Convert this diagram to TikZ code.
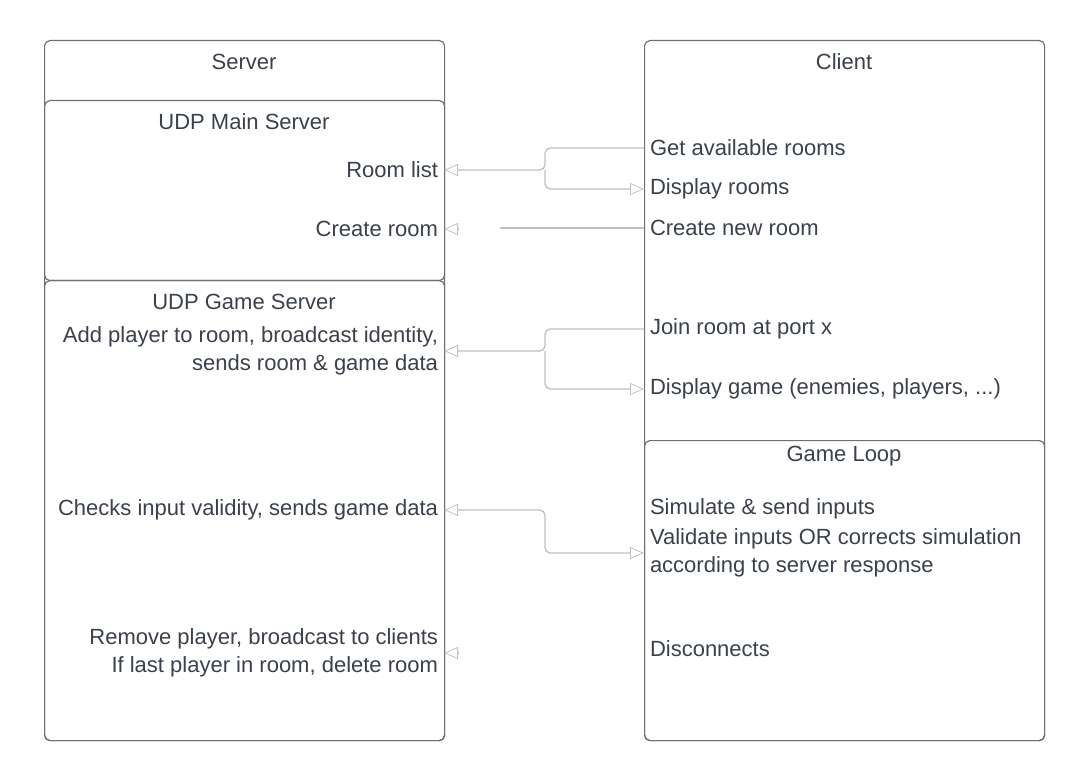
\documentclass[tikz,border=0pt]{standalone}
\usepackage{fontspec}
\setmainfont{Liberation Sans}
\usetikzlibrary{arrows.meta,positioning,calc}
\definecolor{boxline}{RGB}{112,112,112}
\definecolor{linkline}{RGB}{192,192,192}
\definecolor{txt}{RGB}{58,65,74}
\tikzset{
  panel/.style={draw=boxline, line width=0.9pt, rounded corners=4pt, inner sep=0pt,
    minimum width=300pt, anchor=north west},
  title/.style={text=txt, inner sep=0pt},
  lefttxt/.style={text=txt, anchor=east, align=right, inner sep=0pt, outer xsep=4.5pt},
  righttxt/.style={text=txt, anchor=west, align=left, inner sep=0pt, outer xsep=4.5pt},
  link/.style={draw=linkline, line width=1pt, rounded corners=4pt},
  tip/.tip={Triangle[open, length=10.5pt, width=9pt, line width=0.6pt]}
}
\begin{document}
\begin{tikzpicture}[x=0.75pt, y=-0.75pt, font=\fontsize{16.5}{21}\selectfont]
    \useasboundingbox (0,0) rectangle (1084,780);

    % Server side
    \node[panel, minimum height=525pt] (server) at (44,40) {};
    \node[panel, minimum height=135pt] (mainsrv) at (44,100) {};
    \node[panel, minimum height=345pt] (gamesrv) at (44,280) {};

    % Client side
    \node[panel, minimum height=525pt] (client) at (644,40) {};
    \node[panel, minimum height=225pt] (gameloop) at (644,440) {};

    % Titles
    \node[title] (servertitle) at (244,62) {Server};
    \node[title] (maintitle) at (244,122) {UDP Main Server};
    \node[title] (gametitle) at (244,302) {UDP Game Server};
    \node[title] (clienttitle) at (844,62) {Client};
    \node[title] (looptitle) at (844,456) {Game Loop};

    % Server texts
    \node[lefttxt] (roomlist) at (444,170) {Room list};
    \node[lefttxt] (createroom) at (444,229) {Create room};
    \node[lefttxt] (addplayer) at (444,351) {Add player to room, broadcast identity,\\sends room \& game data};
    \node[lefttxt] (checks) at (444,510) {Checks input validity, sends game data};
    \node[lefttxt] (remove) at (444,653) {Remove player, broadcast to clients\\If last player in room, delete room};

    % Client texts
    \node[righttxt] (getrooms) at (644,148) {Get available rooms};
    \node[righttxt] (disprooms) at (644,189) {Display rooms};
    \node[righttxt] (newroom) at (644,228) {Create new room};
    \node[righttxt] (joinroom) at (644,329) {Join room at port x};
    \node[righttxt] (dispgame) at (644,389) {Display game (enemies, players, ...)};
    \node[righttxt] (simulate) at (644,509) {Simulate \& send inputs};
    \node[righttxt] (validate) at (644,553) {Validate inputs OR corrects simulation\\according to server response};
    \node[righttxt] (disconnect) at (644,649) {Disconnects};

    % Junctions
    \coordinate (J1) at (545,170);
    \coordinate (J2) at (545,351);
    \coordinate (J3) at (545,530);
    \coordinate (C1) at (500,228);

    % Connectors
    \draw[link, -{tip}] (getrooms.west) -| (J1) -- (roomlist.east);
    \draw[link, -{tip}] (J1) |- (disprooms.west);
    \draw[link] (newroom.west) -- (C1);
    \draw[link, -{tip}] ($(createroom.east)+(15,0)$) -- (createroom.east);
    \draw[link, -{tip}] (joinroom.west) -| (J2) -- (addplayer.east);
    \draw[link, -{tip}] (J2) |- (dispgame.west);
    \draw[link, {tip}-{tip}] (checks.east) -| (J3) |- (validate.west);
    \draw[link, -{tip}] ($(remove.east)+(15,0)$) -- (remove.east);

\end{tikzpicture}
\end{document}
